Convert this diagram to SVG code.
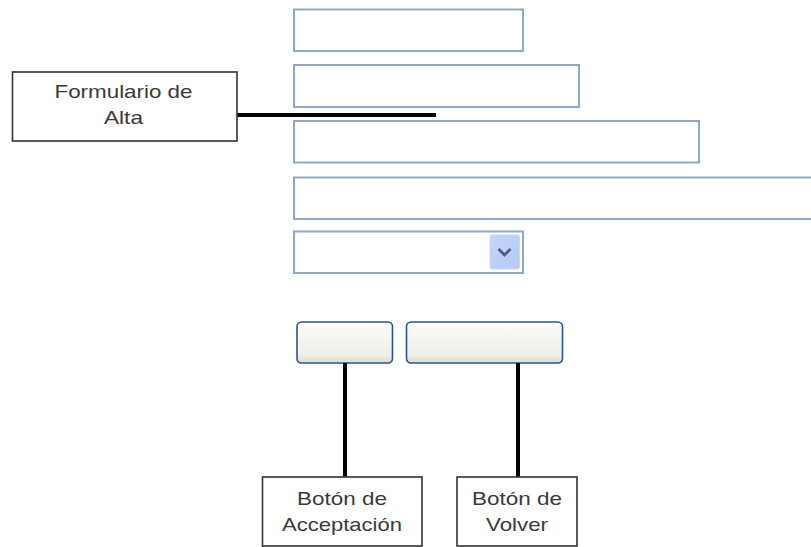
<svg xmlns="http://www.w3.org/2000/svg" width="811" height="547" viewBox="0 0 811 547">
<defs>
<linearGradient id="btn" x1="0" y1="0" x2="0" y2="1">
<stop offset="0" stop-color="#fbfbf8"/>
<stop offset="0.8" stop-color="#efefe9"/>
<stop offset="1" stop-color="#dcdcd4"/>
</linearGradient>
<linearGradient id="dd" x1="0" y1="0" x2="1" y2="1">
<stop offset="0" stop-color="#c4d3fa"/>
<stop offset="1" stop-color="#b6c9f5"/>
</linearGradient>
</defs>
<style>
.field{fill:#ffffff;stroke:#8ea8c5;stroke-width:2}
.btn{fill:url(#btn);stroke:#275592;stroke-width:1.6}
.label{fill:#ffffff;stroke:#333333;stroke-width:1.6}
.conn{stroke:#000000;stroke-width:4;fill:none}
text{font-family:"Liberation Sans",Arial,sans-serif;font-size:19px;fill:#3a3a3a;text-anchor:middle}
</style>
<rect width="811" height="547" fill="#ffffff"/>
<g id="field1"><rect class="field" x="294" y="9.5" width="229" height="41.5"/></g>
<g id="field2"><rect class="field" x="294" y="65" width="285" height="42"/></g>
<g id="field3"><rect class="field" x="294" y="121" width="405" height="41.5"/></g>
<g id="field4"><rect class="field" x="294" y="177.5" width="530" height="41.5"/></g>
<g id="select">
<rect class="field" x="294" y="231.5" width="229" height="41.5"/>
<rect x="490" y="235" width="29.5" height="34" rx="2" fill="url(#dd)" stroke="#c9d6f4" stroke-width="1"/>
<path d="M498.5 249 L504.5 255 L510.5 249" fill="none" stroke="#4a5d82" stroke-width="2.8"/>
</g>
<g id="btnAccept"><rect class="btn" x="297" y="322" width="95.5" height="41" rx="4.5"/></g>
<g id="btnBack"><rect class="btn" x="406.5" y="322" width="156" height="41" rx="4.5"/></g>
<g id="connectors">
<line class="conn" x1="237" y1="115" x2="436" y2="115"/>
<line class="conn" x1="345" y1="363" x2="345" y2="477"/>
<line class="conn" x1="518" y1="363" x2="518" y2="477"/>
</g>
<g id="labelForm">
<rect class="label" x="12.5" y="72" width="224.5" height="69"/>
<text x="123.5" y="98" textLength="138" lengthAdjust="spacingAndGlyphs">Formulario de</text>
<text x="123.5" y="124" textLength="39" lengthAdjust="spacingAndGlyphs">Alta</text>
</g>
<g id="labelAccept">
<rect class="label" x="262.5" y="477" width="159.5" height="69"/>
<text x="342" y="505" textLength="90" lengthAdjust="spacingAndGlyphs">Botón de</text>
<text x="342" y="531" textLength="120" lengthAdjust="spacingAndGlyphs">Acceptación</text>
</g>
<g id="labelBack">
<rect class="label" x="457" y="477" width="120" height="69"/>
<text x="517" y="505" textLength="90" lengthAdjust="spacingAndGlyphs">Botón de</text>
<text x="517" y="531" textLength="62" lengthAdjust="spacingAndGlyphs">Volver</text>
</g>
</svg>
